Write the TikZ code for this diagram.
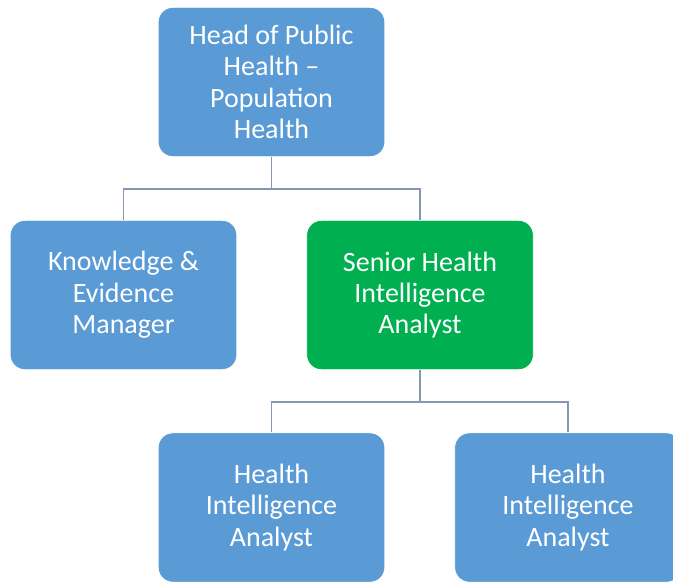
\documentclass[tikz,border=0pt]{standalone}
\usepackage{fontspec}
\setmainfont{Carlito}
\usepackage{tikz}
\definecolor{boxblue}{HTML}{5B9BD5}
\definecolor{boxgreen}{HTML}{00B050}
\definecolor{linkgrey}{HTML}{8497B0}
\newcommand{\BoxW}{170pt}
\newcommand{\BoxH}{112pt}

\begin{document}
\begin{tikzpicture}[x=0.75pt,y=-0.75pt,
  post/.style={rectangle, rounded corners=11pt, fill=boxblue, draw=white, line width=0.6pt,
    minimum width=\BoxW, minimum height=\BoxH, text=white, align=center,
    font=\fontsize{21}{23.5}\selectfont},
  link/.style={draw=linkgrey, line width=1pt}]

\useasboundingbox (0,0) rectangle (673,583);

\node[post] (head) at (271.5,82) {Head of Public\\Health --\\Population\\Health};
\node[post] (knowledge) at (123.5,295) {Knowledge \&\\Evidence\\Manager};
\node[post, fill=boxgreen] (senior) at (420,295) {Senior Health\\Intelligence\\Analyst};
\node[post] (analystA) at (271.5,507.5) {Health\\Intelligence\\Analyst};
\node[post] (analystB) at (568,507.5) {Health\\Intelligence\\Analyst};

\coordinate (busA) at (271.5,189);
\coordinate (busB) at (420,402);

\draw[link] (head.south) -- (busA);
\draw[link] (busA) -| (knowledge.north);
\draw[link] (busA) -| (senior.north);

\draw[link] (senior.south) -- (busB);
\draw[link] (busB) -| (analystA.north);
\draw[link] (busB) -| (analystB.north);

\end{tikzpicture}
\end{document}
